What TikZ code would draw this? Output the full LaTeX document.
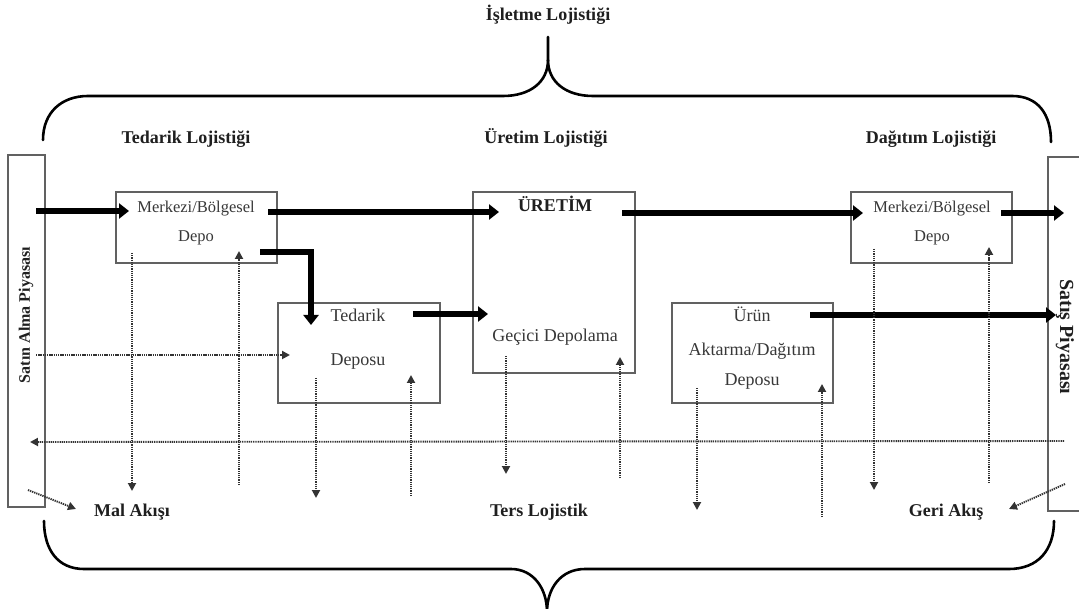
\documentclass[tikz,border=0pt]{standalone}
\usepackage{fontspec}
\setmainfont{Liberation Serif}
\usetikzlibrary{arrows.meta}
\tikzset{
  box/.style={draw=black!62, line width=1.4pt, inner sep=0pt},
  lbl/.style={font=\fontsize{18}{20}\selectfont\bfseries, text=black!88, inner sep=0pt, text height=12pt, text depth=4pt},
  txt/.style={font=\fontsize{18}{20}\selectfont, text=black!78, inner sep=0pt, text height=12pt, text depth=4pt},
  txtsm/.style={txt, font=\fontsize{16.5}{18}\selectfont},
  heavy/.style={line width=6.2pt, draw=black, -{Triangle[length=10pt,width=15pt]}},
  dotarrow/.style={line width=1.9pt, draw=black!80, dash pattern=on 1.3pt off 0.9pt, -{Triangle[length=8pt,width=8pt]}},
  brace/.style={line width=2.6pt, draw=black, line cap=round}
}
\begin{document}
\begin{tikzpicture}[x=1pt,y=-1pt]
\useasboundingbox (0,0) rectangle (1079,609);
\fill[white] (0,0) rectangle (1079,609);

% braces
\draw[brace] (43,140) .. controls (43,112) and (62,96) .. (88,96) -- (503,96)
  .. controls (530,96) and (548,82) .. (548,60) -- (548,37);
\draw[brace] (548,60) .. controls (548,82) and (566,96) .. (593,96) -- (1012,96)
  .. controls (1038,96) and (1051,114) .. (1051,142);
\draw[brace] (44,521) .. controls (44,550) and (58,569) .. (84,569) -- (511,569)
  .. controls (533,569) and (547,588) .. (547,612);
\draw[brace] (547,612) .. controls (547,588) and (561,569) .. (585,569) -- (1009,569)
  .. controls (1038,569) and (1054,550) .. (1054,521);

% title labels
\node[lbl] (isl) at (548,17) {İşletme Lojistiği};
\node[lbl] (ted) at (186,140) {Tedarik Lojistiği};
\node[lbl] (ure) at (546,140) {Üretim Lojistiği};
\node[lbl] (dag) at (931,140) {Dağıtım Lojistiği};

% side bars
\node[box, minimum width=37pt, minimum height=352pt] (L) at (26.5,331) {};
\node[font=\fontsize{16}{18}\selectfont\bfseries, text=black!88, rotate=90, inner sep=0pt] (Ltxt) at (26,315) {Satın Alma Piyasası};
\coordinate (Rt) at (1085,157);
\coordinate (Rb) at (1085,511);
\draw[draw=black!62, line width=1.4pt] (Rt) -- (1048,157) -- (1048,511) -- (Rb);
\node[font=\fontsize{20}{22}\selectfont\bfseries, text=black!88, rotate=-90, inner sep=0pt] (Rtxt) at (1065,337) {Satış Piyasası};

% boxes
\node[box, minimum width=161pt, minimum height=71pt] (A) at (196.5,227.5) {};
\node[box, minimum width=162pt, minimum height=100pt] (B) at (359,353) {};
\node[box, minimum width=162pt, minimum height=181pt] (C) at (554,282.5) {};
\node[box, minimum width=161pt, minimum height=71pt] (D) at (931.5,227.5) {};
\node[box, minimum width=161pt, minimum height=100pt] (E) at (752.5,353) {};

% box texts
\node[txtsm] (A1) at (196,209) {Merkezi/Bölgesel};
\node[txtsm] (A2) at (196,238) {Depo};
\node[txt] (B1) at (358,318) {Tedarik};
\node[txt] (B2) at (358,362) {Deposu};
\node[lbl] (C1) at (555,208) {ÜRETİM};
\node[txt] (C2) at (555,338) {Geçici Depolama};
\node[txtsm] (D1) at (932,209) {Merkezi/Bölgesel};
\node[txtsm] (D2) at (932,238) {Depo};
\node[txt] (E1) at (752,318) {Ürün};
\node[txt] (E2) at (752,352) {Aktarma/Dağıtım};
\node[txt] (E3) at (752,382) {Deposu};

% bottom labels
\node[lbl] (mal) at (132,512) {Mal Akışı};
\node[lbl] (ters) at (539,512) {Ters Lojistik};
\node[lbl] (geri) at (946,512) {Geri Akış};

% heavy arrows
\draw[heavy] (36,211) -- (129,211);
\draw[heavy] (268,212) -- (499,212);
\draw[heavy] (622,213) -- (863,213);
\draw[heavy] (1001,213) -- (1064,213);
\draw[heavy, miter limit=10] (260,252) -- (311,252) -- (311,325);
\draw[heavy] (413,314) -- (488,314);
\draw[heavy] (810,315) -- (1056,315);

% dotted flows
\draw[dotarrow] (36,355) -- (290,355);
\draw[dotarrow] (1064,441) -- (30,442);
\draw[dotarrow] (28,490) -- (76,509);
\draw[dotarrow] (1065,484) -- (1009,509);

\draw[dotarrow] (132,253) -- (132,491);
\draw[dotarrow] (239,485) -- (239,251);
\draw[dotarrow] (316,378) -- (316,498);
\draw[dotarrow] (411,496) -- (411,375);
\draw[dotarrow] (506,356) -- (506,474);
\draw[dotarrow] (620,478) -- (620,357);
\draw[dotarrow] (697,388) -- (697,510);
\draw[dotarrow] (822,517) -- (822,384);
\draw[dotarrow] (874,249) -- (874,490);
\draw[dotarrow] (989,483) -- (989,247);
\end{tikzpicture}
\end{document}
